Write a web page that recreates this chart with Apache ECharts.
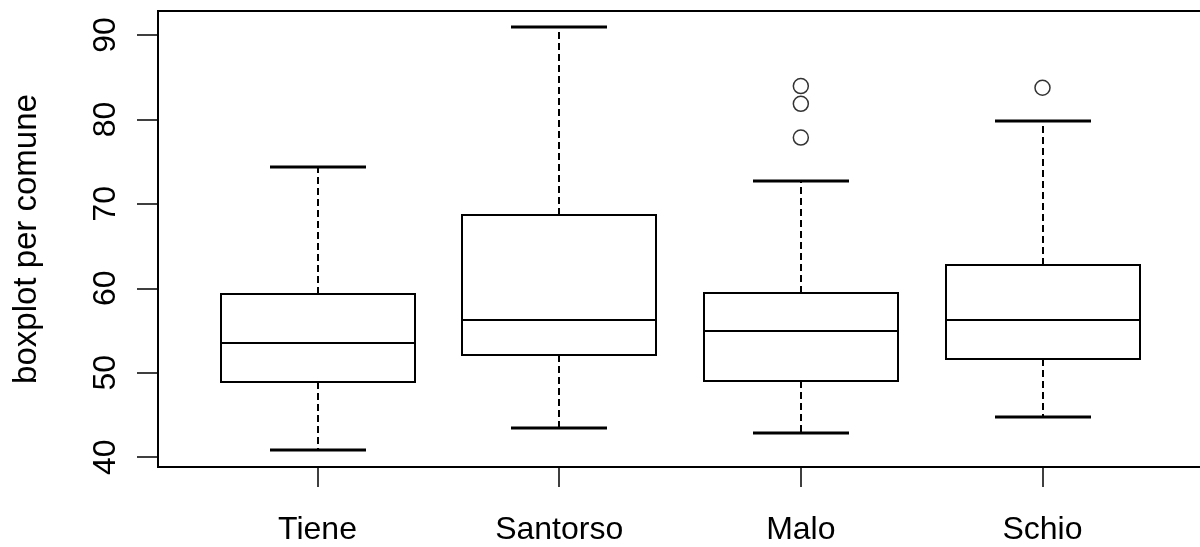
<!DOCTYPE html>
<html>
<head>
<meta charset="utf-8">
<style>
  html, body { margin: 0; padding: 0; background: #ffffff; }
  #chart { width: 1200px; height: 547px; }
</style>
<script src="https://cdn.jsdelivr.net/npm/echarts@6/dist/echarts.min.js"></script>
</head>
<body>
<div id="chart"></div>
<script>
// Five-number summaries per town (lower whisker, Q1, median, Q3, upper whisker)
const categories = ['Tiene', 'Santorso', 'Malo', 'Schio'];
const lowerWhisker = [40.8, 43.45, 42.9, 44.8];
const q1 = [48.85, 52.05, 49.0, 51.6];
const median = [53.55, 56.25, 54.95, 56.3];
const q3 = [59.3, 68.7, 59.5, 62.75];
const upperWhisker = [74.35, 90.9, 72.75, 79.8];
// Points beyond the whiskers: [category index, value]
const outlierCategory = [2, 2, 2, 3];
const outlierValue = [77.85, 81.85, 83.95, 83.75];
// Axis ticks
const yTicks = [40, 50, 60, 70, 80, 90];
const xTicks = [1, 2, 3, 4];

const FONT = '"Liberation Sans", Arial, Helvetica, sans-serif';
const BOX_WIDTH = 0.8;   // in x-axis units
const CAP_WIDTH = 0.4;

const boxData = categories.map((c, i) => [i + 1, lowerWhisker[i], q1[i], median[i], q3[i], upperWhisker[i]]);
const outlierData = outlierValue.map((v, i) => [outlierCategory[i] + 1, v]);

function renderBox(params, api) {
  const x = api.value(0);
  const vals = [api.value(1), api.value(2), api.value(3), api.value(4), api.value(5)];
  const pts = vals.map(v => api.coord([x, v]));
  const cx = Math.round(pts[0][0]);
  const y = pts.map(p => Math.round(p[1]));
  const half = Math.round(api.size([BOX_WIDTH, 0])[0] / 2);
  const capHalf = Math.round(api.size([CAP_WIDTH, 0])[0] / 2);
  const solid = { stroke: '#000', lineWidth: 2, fill: null };
  const dashed = { stroke: '#000', lineWidth: 2, lineDash: [7, 4] };
  const cap = { stroke: '#000', lineWidth: 3 };
  return {
    type: 'group',
    children: [
      // whiskers
      { type: 'line', shape: { x1: cx, y1: y[3], x2: cx, y2: y[4] }, style: dashed },
      { type: 'line', shape: { x1: cx, y1: y[1], x2: cx, y2: y[0] }, style: dashed },
      // staples
      { type: 'line', shape: { x1: cx - capHalf, y1: y[4], x2: cx + capHalf, y2: y[4] }, style: cap },
      { type: 'line', shape: { x1: cx - capHalf, y1: y[0], x2: cx + capHalf, y2: y[0] }, style: cap },
      // box
      { type: 'rect', shape: { x: cx - half, y: y[3], width: 2 * half, height: y[1] - y[3] },
        style: { stroke: '#000', lineWidth: 2, fill: '#fff' } },
      // median
      { type: 'line', shape: { x1: cx - half, y1: y[2], x2: cx + half, y2: y[2] }, style: solid }
    ]
  };
}

const chart = echarts.init(document.getElementById('chart'), null, { renderer: 'canvas' });
chart.setOption({
  animation: false,
  backgroundColor: '#ffffff',
  textStyle: { fontFamily: FONT },
  grid: {
    left: 158, top: 11, width: 1044, height: 456,
    show: true, borderColor: '#000', borderWidth: 2, backgroundColor: 'transparent',
    outerBoundsMode: 'none'
  },
  xAxis: {
    type: 'value',
    min: 0.34, max: 4.66,
    splitLine: { show: false },
    axisLine: { show: false },
    axisTick: { show: true, length: 20, inside: false, customValues: xTicks,
      lineStyle: { color: '#000', width: 1.5 } },
    axisLabel: {
      show: true, customValues: xTicks, margin: 47,
      formatter: v => categories[Math.round(v) - 1] || '',
      color: '#000', fontSize: 32, fontFamily: FONT
    }
  },
  yAxis: {
    type: 'value',
    min: 38.84, max: 92.84,
    name: 'boxplot per comune',
    nameLocation: 'middle',
    nameRotate: 90,
    nameGap: 115,
    nameTextStyle: { color: '#000', fontSize: 33, fontFamily: FONT },
    splitLine: { show: false },
    axisLine: { show: false },
    axisTick: { show: true, length: 21, inside: false, customValues: yTicks,
      lineStyle: { color: '#000', width: 1.5 } },
    axisLabel: {
      show: true, customValues: yTicks, rotate: 90, margin: 36,
      color: '#000', fontSize: 32, fontFamily: FONT
    }
  },
  series: [
    {
      type: 'custom',
      renderItem: renderBox,
      encode: { x: 0, y: [1, 2, 3, 4, 5] },
      data: boxData,
      clip: false,
      silent: true
    },
    {
      type: 'scatter',
      data: outlierData,
      symbol: 'circle',
      symbolSize: 15,
      itemStyle: { color: 'rgba(255,255,255,0)', borderColor: '#000', borderWidth: 1.5 },
      silent: true
    }
  ]
});
</script>
</body>
</html>
